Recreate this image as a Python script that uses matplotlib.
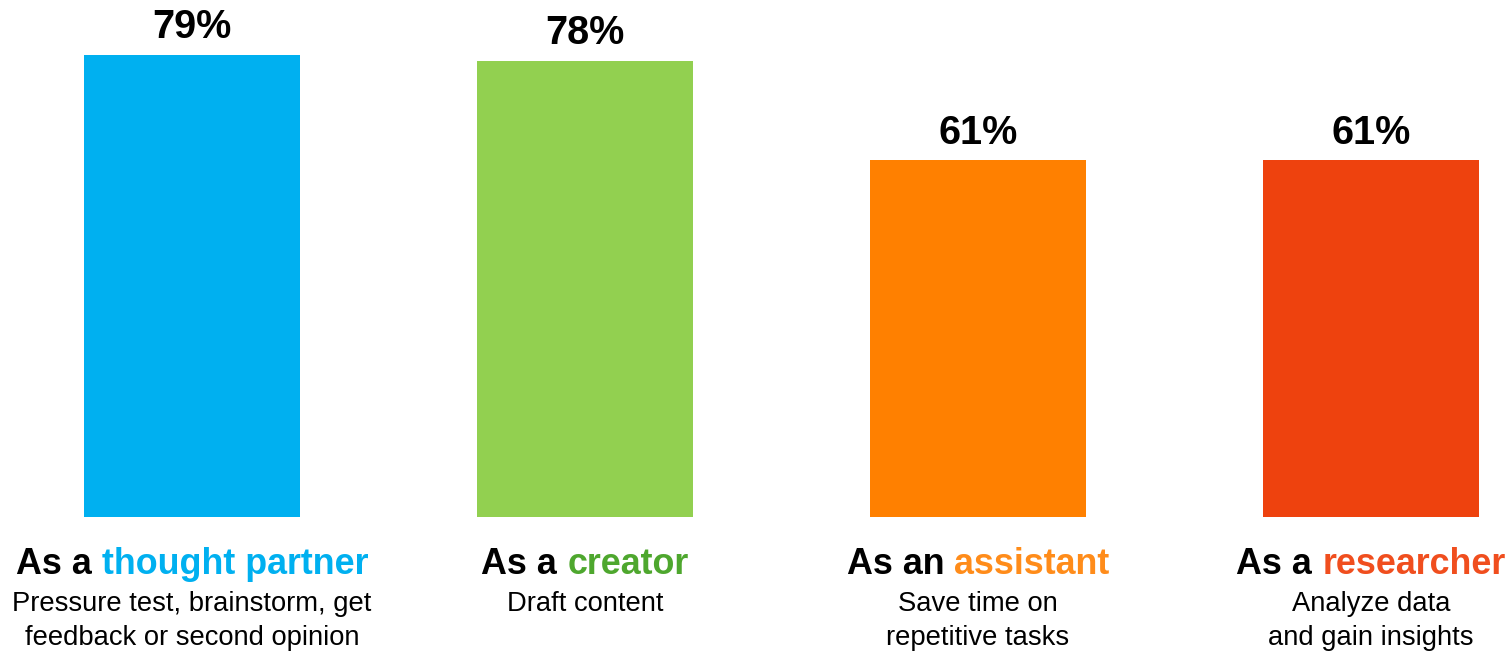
import matplotlib.pyplot as plt
from matplotlib import transforms

# Dados do grafico
prefixos = ['As a ', 'As a ', 'As an ', 'As a ']
papeis = ['thought partner', 'creator', 'assistant', 'researcher']
descricoes = ['Pressure test, brainstorm, get\nfeedback or second opinion',
              'Draft content',
              'Save time on\nrepetitive tasks',
              'Analyze data\nand gain insights']
valores = [79, 78, 61, 61]

cores_barras = ['#00B0F0', '#92D050', '#FF8000', '#EE420E']
cores_texto = ['#00B0F0', '#4EA72E', '#FF8C1A', '#F04E1E']

plt.rcParams['font.family'] = ['Liberation Sans', 'DejaVu Sans']

fig = plt.figure(figsize=(15.1, 6.54), dpi=100)
ax = fig.add_axes([0, 0, 1, 1])
x = list(range(len(valores)))
ax.bar(x, valores, width=0.552, color=cores_barras)
ax.set_xlim(-0.4885, 3.3537)
ax.set_ylim(-23.43, 88.41)
ax.axis('off')

# Rotulos de percentual
for xi, v in zip(x, valores):
    ax.annotate(f'{v}%', (xi, v), xytext=(0, 12), textcoords='offset points',
                ha='center', va='baseline', fontsize=28.5, fontweight='bold')

# Rotulos das categorias (duas cores na mesma linha)
fig.canvas.draw()
r = fig.canvas.get_renderer()
trans = transforms.blended_transform_factory(ax.transData, fig.transFigure)
fs_tit = 25.8
fs_sub = 19.7
y_tit = (654 - 565) / 654
for i in range(len(valores)):
    tmp = ax.text(0, y_tit, prefixos[i] + papeis[i], transform=trans,
                  fontsize=fs_tit, fontweight='bold')
    w = tmp.get_window_extent(r).width / fig.dpi
    tmp.remove()
    t1 = transforms.ScaledTranslation(-w / 2, 0, fig.dpi_scale_trans)
    t2 = transforms.ScaledTranslation(w / 2, 0, fig.dpi_scale_trans)
    ax.text(x[i], y_tit, prefixos[i], transform=trans + t1, ha='left',
            va='center', fontsize=fs_tit, fontweight='bold', color='black')
    ax.text(x[i], y_tit, papeis[i], transform=trans + t2, ha='right',
            va='center', fontsize=fs_tit, fontweight='bold', color=cores_texto[i])
    for k, linha in enumerate(descricoes[i].split('\n')):
        yk = (654 - (604 + 34 * k)) / 654
        ax.text(x[i], yk, linha, transform=trans, ha='center', va='center',
                fontsize=fs_sub, color='black')

fig.savefig('out.png', dpi=100)
